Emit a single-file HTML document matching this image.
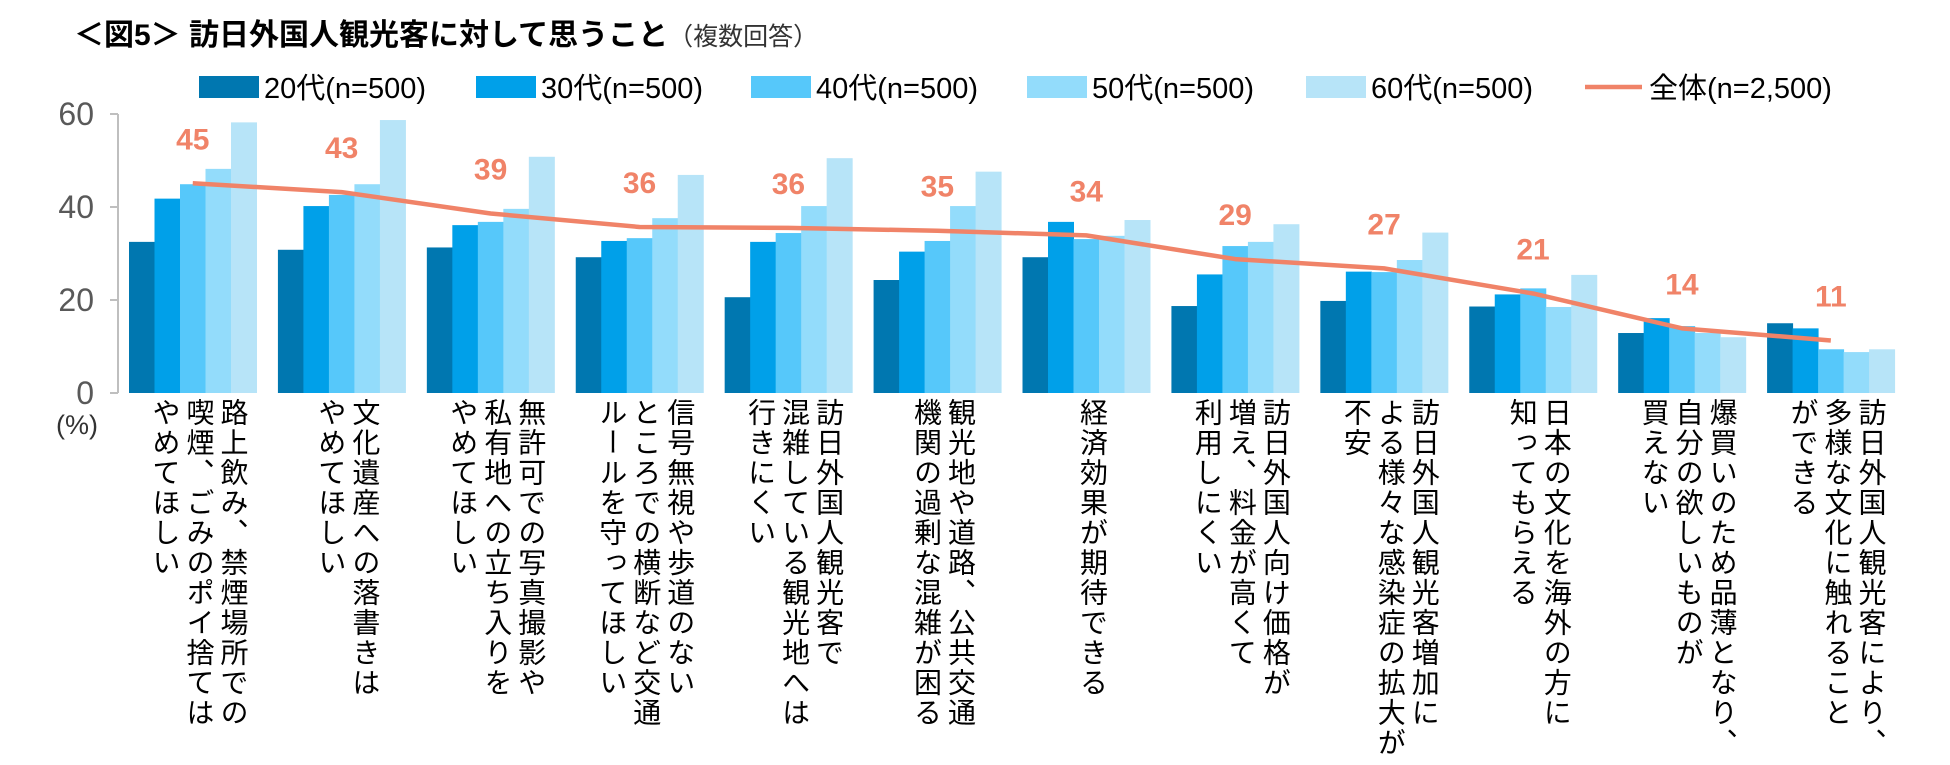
<!DOCTYPE html>
<html><head><meta charset="utf-8">
<style>
body{margin:0;width:1950px;height:765px;background:#fff;overflow:hidden;position:relative;font-family:"Liberation Sans","Noto Sans CJK JP",sans-serif;}
.cat{position:absolute;top:398px;writing-mode:vertical-rl;font-size:28px;letter-spacing:2px;line-height:34px;color:#000;white-space:nowrap;}
</style></head>
<body>
<div style="position:absolute;left:74px;top:10px;font-size:30px;font-weight:bold;color:#000;">＜図5＞ 訪日外国人観光客に対して思うこと<span style="font-weight:normal;font-size:25px;color:#333;">（複数回答）</span></div>
<svg id="chart" width="1950" height="765" style="position:absolute;left:0;top:0;"></svg>
<div id="cats"></div>
<script>
const categories=[
["路上飲み、禁煙場所での","喫煙、ごみのポイ捨ては","やめてほしい"],
["文化遺産への落書きは","やめてほしい"],
["無許可での写真撮影や","私有地への立ち入りを","やめてほしい"],
["信号無視や歩道のない","ところでの横断など交通","ルールを守ってほしい"],
["訪日外国人観光客で","混雑している観光地へは","行きにくい"],
["観光地や道路、公共交通","機関の過剰な混雑が困る"],
["経済効果が期待できる"],
["訪日外国人向け価格が","増え、料金が高くて","利用しにくい"],
["訪日外国人観光客増加に","よる様々な感染症の拡大が","不安"],
["日本の文化を海外の方に","知ってもらえる"],
["爆買いのため品薄となり、","自分の欲しいものが","買えない"],
["訪日外国人観光客により、","多様な文化に触れること","ができる"]];
const seriesNames=["20代(n=500)","30代(n=500)","40代(n=500)","50代(n=500)","60代(n=500)"];
const v20=[32.5,30.8,31.3,29.2,20.6,24.3,29.2,18.7,19.8,18.6,12.9,15.0];
const v30=[41.8,40.2,36.1,32.7,32.5,30.4,36.8,25.5,26.1,21.2,16.1,13.9];
const v40=[44.9,42.6,36.8,33.3,34.4,32.7,33.1,31.6,26.0,22.5,14.4,9.4];
const v50=[48.2,44.9,39.6,37.6,40.2,40.2,33.8,32.5,28.6,18.5,12.9,8.8];
const v60=[58.2,58.7,50.8,46.9,50.5,47.6,37.2,36.3,34.5,25.4,12.0,9.4];
const total=[45.1,43.2,38.6,35.7,35.5,34.9,33.9,28.8,26.8,21.4,13.9,11.3];
const totalLabels=["45","43","39","36","36","35","34","29","27","21","14","11"];
const yTicks=[0,20,40,60];
const colors=["#0077B0","#00A0E9","#56C8FA","#93DCFB","#B7E4F8"];
const lineColor="#F08368";

const X0=118,X1=1905,Y0=393,YTOP=114,YMAX=60;
const pitch=(X1-X0)/categories.length, barW=25.5;
const y=v=>Y0-(v/YMAX)*(Y0-YTOP);
const gx=i=>X0+i*pitch;
const gc=i=>gx(i)+11+barW*2.5;
const svg=document.getElementById('chart');
const NS="http://www.w3.org/2000/svg";
function mk(t,a){const e=document.createElementNS(NS,t);for(const k in a)e.setAttribute(k,a[k]);svg.appendChild(e);return e;}
let ax=mk('line',{x1:X0,y1:YTOP,x2:X0,y2:Y0,stroke:'#BFBFBF','stroke-width':2});


yTicks.forEach(t=>{
  const tk=mk('line',{x1:X0-8,y1:y(t),x2:X0,y2:y(t),stroke:'#BFBFBF','stroke-width':2});
  
  
  const tl=mk('text',{x:X0-24,y:y(t)+11,'text-anchor':'end','font-size':32,fill:'#595959','font-family':'Liberation Sans, sans-serif'});
  tl.textContent=t;
  
  
});
const pu=mk('text',{x:56,y:434,'font-size':27,fill:'#333','font-family':'Liberation Sans, sans-serif'});
pu.textContent='(%)';


const series=[v20,v30,v40,v50,v60];
series.forEach((s,si)=>{
  s.forEach((v,i)=>{
    const r=mk('rect',{x:gx(i)+11+si*barW,y:y(v),width:barW+0.5,height:Y0-y(v),fill:colors[si]});
    
    
  });
});
const pts=total.map((v,i)=>gc(i)+','+y(v)).join(' ');
const pl=mk('polyline',{points:pts,fill:'none',stroke:lineColor,'stroke-width':4.5,'stroke-linejoin':'round'});


total.forEach((v,i)=>{
  const t=mk('text',{x:gc(i),y:y(v)-34,'text-anchor':'middle','font-size':30,'font-weight':'bold',fill:lineColor,'font-family':'Liberation Sans, sans-serif'});
  t.textContent=totalLabels[i];
  
  
});
const legX=[199,476,751,1027,1306];
seriesNames.forEach((n,si)=>{
  const r=mk('rect',{x:legX[si],y:76,width:60,height:22,fill:colors[si]});
  
  
  const t=mk('text',{x:legX[si]+65,y:98,'font-size':29,fill:'#000','font-family':'Liberation Sans, Noto Sans CJK JP, sans-serif'});
  t.textContent=n;
  
  
});
const ll=mk('line',{x1:1585,y1:87,x2:1642,y2:87,stroke:lineColor,'stroke-width':4.5});


const lt=mk('text',{x:1649,y:98,'font-size':29,fill:'#000','font-family':'Liberation Sans, Noto Sans CJK JP, sans-serif'});
lt.textContent='全体(n=2,500)';


const cats=document.getElementById('cats');
categories.forEach((lines,i)=>{
  const d=document.createElement('div');
  d.className='cat';
  
  
  d.innerHTML=lines.join('<br>');
  cats.appendChild(d);
  const w=lines.length*34;
  d.style.left=(gx(i)+pitch/2-w/2+6)+'px';
});
</script>
</body></html>
